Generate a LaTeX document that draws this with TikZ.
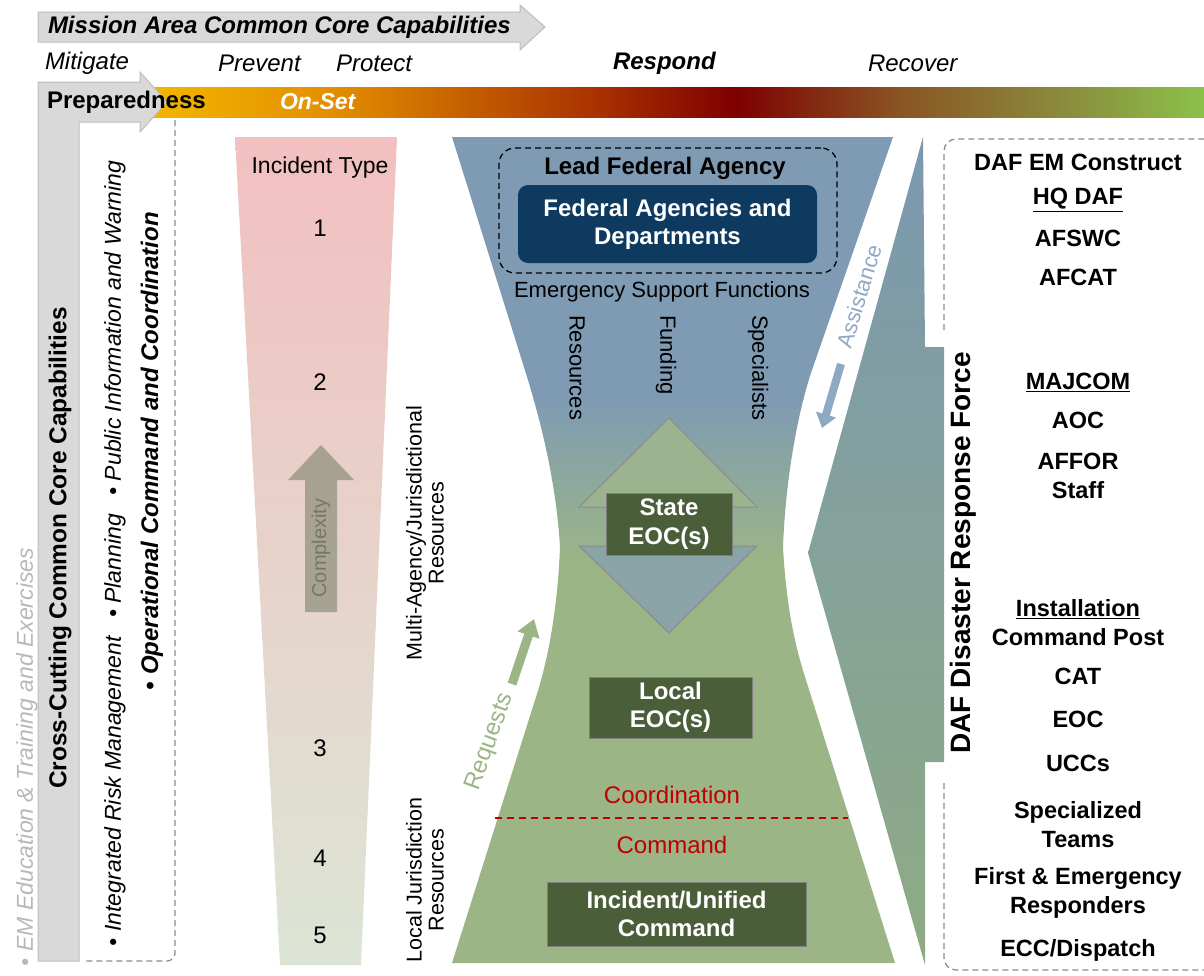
\documentclass[tikz,border=0pt]{standalone}
\usepackage{fontspec}
\setmainfont{Liberation Sans}
\usetikzlibrary{arrows.meta}
\newcommand\fsz[2]{\fontsize{#1}{#2}\selectfont}
\definecolor{grayfill}{HTML}{D9D9D9}
\definecolor{grayline}{HTML}{BDBDBD}
\definecolor{dashgray}{HTML}{8C8C8C}
\definecolor{hgB}{HTML}{7F9BB3}
\definecolor{hgG}{HTML}{9BB586}
\definecolor{navy}{HTML}{0E3A5F}
\definecolor{dkgreen}{HTML}{4A5E3A}
\definecolor{boxline}{HTML}{7F7F7F}
\definecolor{redtxt}{HTML}{C00000}
\definecolor{reqgreen}{HTML}{9CB584}
\definecolor{asblue}{HTML}{8FA9C3}
\definecolor{pinktop}{HTML}{F2C0C0}
\definecolor{pinkmid}{HTML}{EBD8D0}
\definecolor{pinkbot}{HTML}{DCE5D5}
\definecolor{cplx}{HTML}{A09E8A}
\definecolor{cplxtxt}{HTML}{77756A}
\definecolor{emgray}{HTML}{B8B8B8}
\definecolor{upfill}{HTML}{9CB38F}
\definecolor{downfill}{HTML}{8AA3A7}
\definecolor{trigray}{HTML}{8C8C8C}
\definecolor{rpTop}{HTML}{7B98B0}
\definecolor{rpMid}{HTML}{7F9D9A}
\definecolor{rpBot}{HTML}{8EAB84}
\definecolor{b0}{HTML}{F2B600}
\definecolor{b1}{HTML}{E38F00}
\definecolor{b2}{HTML}{A83000}
\definecolor{b3}{HTML}{7E0000}
\definecolor{b4}{HTML}{8A5524}
\definecolor{b5}{HTML}{8A8A3C}
\definecolor{b6}{HTML}{8BC34A}
\def\hgpath{(452,137) -- (893,137) -- (812,370) .. controls (800,405) and (786,470) .. (783,547) .. controls (786,600) and (793,640) .. (806,680) -- (895,963) -- (452,963) -- (535,700) .. controls (550,655) and (558,600) .. (560,547) .. controls (556,480) and (540,420) .. (528,380) -- cycle}
\begin{document}
\begin{tikzpicture}[x=1pt,y=-1pt,
  every node/.style={inner sep=0pt,outer sep=0pt},
  phase/.style={font=\itshape\fsz{24}{28}, anchor=west},
  num/.style={font=\fsz{24}{28}},
  darkbox/.style={fill=dkgreen, draw=boxline, line width=1pt, text=white, font=\bfseries\fsz{24}{28.5}, align=center},
  rt/.style={font=\bfseries\fsz{23.5}{29}, align=center},
  redlbl/.style={font=\fsz{24}{28}, text=redtxt},
  esf/.style={font=\fsz{22}{26}, rotate=-90, anchor=west},
  sidelbl/.style={font=\fsz{21.5}{22}, rotate=90, align=center},
  dashedge/.style={draw=dashgray, line width=1.3pt, dash pattern=on 6pt off 4pt, rounded corners=12pt}
]
\useasboundingbox (0,0) rectangle (1204,975);
\clip (0,0) rectangle (1204,975);

% Mission arrow
\draw[fill=grayfill, draw=grayline, line width=1pt] (38,12) -- (520,12) -- (520,5) -- (545,27) -- (520,50) -- (520,42) -- (38,42) -- cycle;
\node[anchor=west, font=\bfseries\itshape\fsz{24}{28}] (mission) at (48,27) {Mission Area Common Core Capabilities};

% phases
\node[phase] (mit) at (45,63) {Mitigate};
\node[phase] (prev) at (218,63) {Prevent};
\node[phase] (prot) at (336,63) {Protect};
\node[phase, font=\bfseries\itshape\fsz{24}{28}] (resp) at (613,63) {Respond};
\node[phase] (rec) at (868,63) {Recover};

% gradient bar
\shade[left color=b0, right color=b1] (150,87) rectangle (330.5,117);
\shade[left color=b1, right color=b2] (330,87) rectangle (600.5,117);
\shade[left color=b2, right color=b3] (600,87) rectangle (735.5,117);
\shade[left color=b3, right color=b4] (735,87) rectangle (900.5,117);
\shade[left color=b4, right color=b5] (900,87) rectangle (1060.5,117);
\shade[left color=b5, right color=b6] (1060,87) rectangle (1210,117);

% Preparedness L-arrow
\draw[fill=grayfill, draw=grayline, line width=1pt] (38,82) -- (140,82) -- (140,72) -- (167,102) -- (140,132) -- (140,122) -- (79,122) -- (79,961) -- (38,961) -- cycle;
\node[anchor=west, font=\bfseries\fsz{24}{28}] (prep) at (47,102) {Preparedness};
\node[anchor=west, font=\bfseries\itshape\fsz{23}{28}, text=white] (onset) at (280,102) {On-Set};

% left dashed frame
\draw[dashedge, rounded corners=8pt] (175,120) -- (175,961) -- (83,961);

% left rotated texts
\node[rotate=90, font=\bfseries\fsz{24.4}{28}] (cc) at (60,548) {Cross-Cutting Common Core Capabilities};
\node[rotate=90, anchor=west, font=\itshape\fsz{23}{27}] (irm) at (115,946) {• Integrated Risk Management\hspace{0.8em}• Planning\hspace{0.8em}• Public Information and Warning};
\node[rotate=90, anchor=west, font=\bfseries\itshape\fsz{24}{28}] (occ) at (152,690) {• Operational Command and Coordination};
\node[rotate=90, anchor=west, font=\itshape\fsz{23}{27}, text=emgray] (emed) at (27,966) {• EM Education \& Training and Exercises};

% incident type funnel
\shade[top color=pinktop, middle color=pinkmid, bottom color=pinkbot] (235,137) -- (397,137) -- (361,965) -- (280,965) -- cycle;
\node[font=\fsz{23}{27}] (itype) at (320,168) {Incident Type};
\node[num] (n1) at (320,228) {1};
\node[num] (n2) at (320,382) {2};
\node[num] (n3) at (320,748) {3};
\node[num] (n4) at (320,858) {4};
\node[num] (n5) at (320,935) {5};
\fill[cplx, opacity=0.9] (305,612) -- (305,480) -- (288,480) -- (321,445) -- (354,480) -- (337,480) -- (337,612) -- cycle;
\node[rotate=90, font=\fsz{20}{24}, text=cplxtxt] (cplxt) at (321,548) {Complexity};

\node[sidelbl] (multi) at (425,533) {Multi-Agency/Jurisdictional\\Resources};
\node[sidelbl] (localj) at (425,880) {Local Jurisdiction\\Resources};

% hourglass
\begin{scope}
\clip \hgpath;
\fill[hgB] (440,130) rectangle (910,400);
\shade[top color=hgB, bottom color=hgG] (440,399.5) rectangle (910,560.5);
\fill[hgG] (440,560) rectangle (910,970);
\end{scope}

% right chevron polygon
\shade[top color=rpTop, middle color=rpMid, bottom color=rpBot] (923,137) -- (925,347) -- (944,347) -- (944,762) -- (925,762) -- (925,965) -- (808,553) -- cycle;
\node[rotate=90, font=\bfseries\fsz{28}{32}] (daf) at (963,553) {DAF Disaster Response Force};

% lead federal agency
\node[draw=black, dashed, dash pattern=on 6pt off 4pt, line width=1.3pt, rounded corners=16pt, minimum width=338pt, minimum height=125pt] (leadbox) at (668,210.5) {};
\node[font=\bfseries\fsz{24}{28}] (lead) at (665,168) {Lead Federal Agency};
\node[fill=navy, rounded corners=10pt, minimum width=299pt, minimum height=78pt, text=white, font=\bfseries\fsz{24}{28}, align=center] (fed) at (667.5,224) {Federal Agencies and\\Departments};
\node[font=\fsz{22}{26}] (esfl) at (662,292) {Emergency Support Functions};
\node[esf] (res) at (577,315) {Resources};
\node[esf] (fund) at (666,315) {Funding};
\node[esf] (spec) at (758,315) {Specialists};

% triangles and state box
\draw[draw=trigray, fill=upfill, line width=1pt] (669,418) -- (757,507) -- (579,507) -- cycle;
\draw[draw=trigray, fill=downfill, line width=1pt] (579,546) -- (757,546) -- (669,633) -- cycle;
\node[darkbox, minimum width=126pt, minimum height=62pt] (state) at (669,524) {State\\EOC(s)};
\node[darkbox, minimum width=163pt, minimum height=61pt] (local) at (670.5,707.5) {Local\\EOC(s)};
\node[redlbl] (coord) at (672,795) {Coordination};
\coordinate (cl) at (495,818);
\coordinate (cr) at (848,818);
\draw[redtxt, line width=1.8pt, dash pattern=on 7pt off 5pt] (cl) -- (cr);
\node[redlbl] (cmd) at (672,845) {Command};
\node[darkbox, minimum width=259pt, minimum height=64pt] (icmd) at (676.5,914) {Incident/Unified\\Command};

% requests arrow
\coordinate (rqA) at (512,684);
\coordinate (rqB) at (534,619);
\draw[reqgreen, line width=9pt, -{Triangle[width=22pt,length=17pt]}] (rqA) -- (rqB);
\node[rotate=70, font=\fsz{24}{28}, text=reqgreen] (req) at (490,742) {Requests};

% assistance arrow
\coordinate (asA) at (841,364);
\coordinate (asB) at (822,428);
\draw[asblue, line width=8pt, -{Triangle[width=20pt,length=14pt]}] (asA) -- (asB);
\node[rotate=73, font=\fsz{22}{26}, text=asblue] (assist) at (859,296) {Assistance};

% right dashed frame
\draw[dashedge] (944,330) -- (944,139) -- (1215,139);
\draw[dashedge] (944,783) -- (944,970) -- (1215,970);

% right column
\node[rt] (c1) at (1078,162) {DAF EM Construct};
\node[rt] (c2) at (1078,200) {\underline{HQ DAF}};
\node[rt] (c3) at (1078,238) {AFSWC};
\node[rt] (c4) at (1078,277) {AFCAT};
\node[rt] (c5) at (1078,382) {\underline{MAJCOM}};
\node[rt] (c6) at (1078,420) {AOC};
\node[rt] (c7) at (1078,476) {AFFOR\\Staff};
\node[rt] (c8) at (1078,623) {\underline{Installation}\\Command Post};
\node[rt] (c9) at (1078,676) {CAT};
\node[rt] (c10) at (1078,719) {EOC};
\node[rt] (c11) at (1078,763) {UCCs};
\node[rt] (c12) at (1078,825) {Specialized\\Teams};
\node[rt] (c13) at (1078,893) {First \& Emergency\\Responders};
\node[rt] (c14) at (1078,950) {ECC/Dispatch};
\end{tikzpicture}
\end{document}
